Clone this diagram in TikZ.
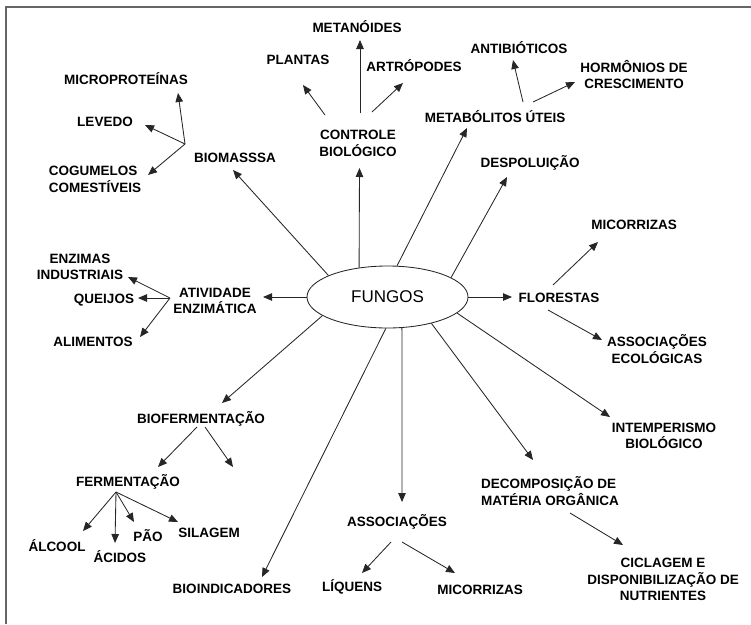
\documentclass[tikz,border=0pt]{standalone}
\usepackage{fontspec}
\setmainfont{Liberation Sans}
\usetikzlibrary{arrows.meta,shapes.geometric}

\begin{document}
\begin{tikzpicture}[x=1pt,y=-1pt,>={Triangle[length=9pt,width=7.5pt]},
  rotulo/.style={font=\bfseries\fontsize{13.5}{16.5}\selectfont,inner sep=0pt,align=center},
  seta/.style={->,draw=black!85,line width=0.85pt}]

\useasboundingbox (0,0) rectangle (751,624);
\draw[black!60,line width=1.5pt] (6,624) -- (6,7) -- (751,7);

% centro
\node[draw=black!85,line width=0.85pt,ellipse,minimum width=161pt,minimum height=62pt,
  inner sep=0pt,font=\fontsize{17}{20}\selectfont] (fungos) at (387.5,297) {FUNGOS};

% rotulos
\node[rotulo] (metanoides) at (357,27) {METANÓIDES};
\node[rotulo] (plantas) at (298,60) {PLANTAS};
\node[rotulo] (artropodes) at (414,66) {ARTRÓPODES};
\node[rotulo] (controle) at (358,143.5) {CONTROLE\\BIOLÓGICO};

\node[rotulo] (microproteinas) at (126,79) {MICROPROTEÍNAS};
\node[rotulo] (levedo) at (105,122) {LEVEDO};
\node[rotulo,align=left] (cogumelos) at (95,179.5) {COGUMELOS\\COMESTÍVEIS};
\node[rotulo] (biomassa) at (235,158) {BIOMASSSA};

\node[rotulo] (antibioticos) at (519,48) {ANTIBIÓTICOS};
\node[rotulo] (hormonios) at (634,74.5) {HORMÔNIOS DE\\CRESCIMENTO};
\node[rotulo] (metabolitos) at (495,117) {METABÓLITOS ÚTEIS};
\node[rotulo] (despoluicao) at (530,163) {DESPOLUIÇÃO};

\node[rotulo] (micorrizasA) at (634,225) {MICORRIZAS};
\node[rotulo] (florestas) at (559,298) {FLORESTAS};
\node[rotulo] (ecologicas) at (657,349) {ASSOCIAÇÕES\\ECOLÓGICAS};

\node[rotulo] (enzimas) at (80,267) {ENZIMAS\\INDUSTRIAIS};
\node[rotulo] (queijos) at (104,300) {QUEIJOS};
\node[rotulo] (alimentos) at (93,342) {ALIMENTOS};
\node[rotulo] (atividade) at (215,301) {ATIVIDADE\\ENZIMÁTICA};

\node[rotulo] (biofermentacao) at (201,419) {BIOFERMENTAÇÃO};
\node[rotulo] (fermentacao) at (128,482) {FERMENTAÇÃO};
\node[rotulo] (alcool) at (57,546) {ÁLCOOL};
\node[rotulo] (acidos) at (120,557) {ÁCIDOS};
\node[rotulo] (pao) at (148,536) {PÃO};
\node[rotulo] (silagem) at (209,533) {SILAGEM};
\node[rotulo] (bioindicadores) at (232,589) {BIOINDICADORES};

\node[rotulo] (associacoes) at (397,522) {ASSOCIAÇÕES};
\node[rotulo] (liquens) at (352,587) {LÍQUENS};
\node[rotulo] (micorrizasB) at (480,590) {MICORRIZAS};

\node[rotulo,align=left] (decomposicao) at (550,491) {DECOMPOSIÇÃO DE\\MATÉRIA ORGÂNICA};
\node[rotulo] (intemperismo) at (664,436) {INTEMPERISMO\\BIOLÓGICO};
\node[rotulo] (ciclagem) at (663,579.5) {CICLAGEM E\\DISPONIBILIZAÇÃO DE\\NUTRIENTES};

\coordinate (livre) at ([shift={(32,48)}]biofermentacao.center);

% setas a partir de fungos
\draw[seta] (fungos.160) -- ([shift={(-2,12)}]biomassa.center);
\draw[seta] (fungos.134) -- ([shift={(1.5,24.5)}]controle.center);
\draw[seta] (fungos.73) -- ([shift={(-28,11)}]metabolitos.center);
\draw[seta] (fungos.17) -- ([shift={(-23,14)}]despoluicao.center);
\draw[seta] (fungos.east) -- ([shift={(-47,-1)}]florestas.center);
\draw[seta] (fungos.-13) -- ([shift={(-54,-19)}]intemperismo.center);
\draw[seta] (fungos.-31) -- ([shift={(-17,-31)}]decomposicao.center);
\draw[seta] (fungos.-65) -- ([shift={(5,-20)}]associacoes.center);
\draw[seta] (fungos.-93) -- ([shift={(30,-12)}]bioindicadores.center);
\draw[seta] (fungos.196) -- ([shift={(21,-16)}]biofermentacao.center);
\draw[seta] (fungos.west) -- ([shift={(48,-4)}]atividade.center);

% controle biologico
\draw[seta] ([shift={(2,-30.5)}]controle.center) -- ([shift={(3,13)}]metanoides.center);
\draw[seta] ([shift={(-33,-28.5)}]controle.center) -- ([shift={(5,25)}]plantas.center);
\draw[seta] ([shift={(14,-31.5)}]controle.center) -- ([shift={(-11,17)}]artropodes.center);

% biomassa
\draw[seta] ([shift={(-50,-14)}]biomassa.center) -- ([shift={(52,14)}]microproteinas.center);
\draw[seta] ([shift={(-50,-14)}]biomassa.center) -- ([shift={(40,3)}]levedo.center);
\draw[seta] ([shift={(-50,-14)}]biomassa.center) -- ([shift={(53,-4.5)}]cogumelos.center);

% metabolitos uteis
\draw[seta] ([shift={(28,-15)}]metabolitos.center) -- ([shift={(-6,12)}]antibioticos.center);
\draw[seta] ([shift={(38,-15)}]metabolitos.center) -- ([shift={(-59,7.5)}]hormonios.center);

% florestas
\draw[seta] ([shift={(-6,-13)}]florestas.center) -- ([shift={(-36,17)}]micorrizasA.center);
\draw[seta] ([shift={(-11,12)}]florestas.center) -- ([shift={(-55,-9)}]ecologicas.center);

% atividade enzimatica
\draw[seta] ([shift={(-45,-3)}]atividade.center) -- ([shift={(48,10)}]enzimas.center);
\draw[seta] ([shift={(-45,-3)}]atividade.center) -- ([shift={(34,-2)}]queijos.center);
\draw[seta] ([shift={(-45,-3)}]atividade.center) -- ([shift={(47,-5)}]alimentos.center);

% biofermentacao
\draw[seta] ([shift={(-4,8)}]biofermentacao.center) -- ([shift={(30,-15)}]fermentacao.center);
\draw[seta] ([shift={(4,8)}]biofermentacao.center) -- (livre);
\draw[seta] ([shift={(-12,10)}]fermentacao.center) -- ([shift={(26,-15)}]alcool.center);
\draw[seta] ([shift={(-12,10)}]fermentacao.center) -- ([shift={(-5,-14)}]acidos.center);
\draw[seta] ([shift={(-12,10)}]fermentacao.center) -- ([shift={(-14,-14)}]pao.center);
\draw[seta] ([shift={(-12,10)}]fermentacao.center) -- ([shift={(-31,-11)}]silagem.center);

% associacoes
\draw[seta] ([shift={(-6,20)}]associacoes.center) -- ([shift={(10,-14)}]liquens.center);
\draw[seta] ([shift={(5,20)}]associacoes.center) -- ([shift={(-25,-17)}]micorrizasB.center);

% decomposicao
\draw[seta] ([shift={(20,22)}]decomposicao.center) -- ([shift={(-40,-34.5)}]ciclagem.center);

\end{tikzpicture}
\end{document}
